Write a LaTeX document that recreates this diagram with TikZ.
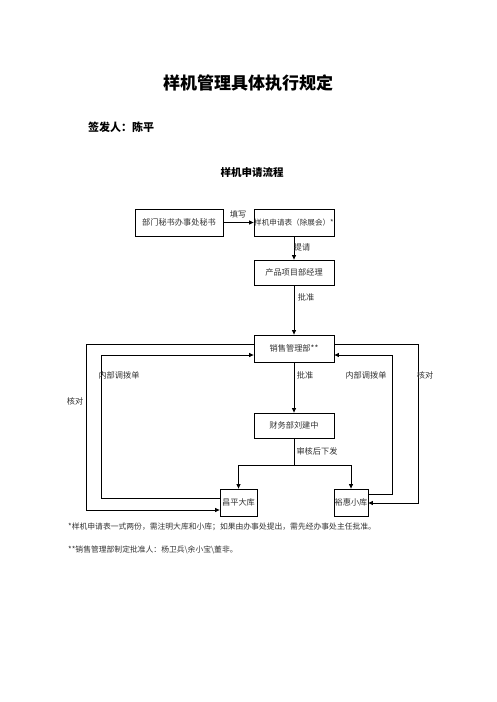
\documentclass[tikz,border=0pt]{standalone}
\usepackage{fontspec}
\setmainfont{Noto Sans CJK SC}
\usetikzlibrary{arrows.meta}
\tikzset{
  box/.style={draw, line width=0.8pt, inner sep=0pt, font=\fontsize{8.2}{9}\selectfont, text=black!80},
  lbl/.style={inner sep=0pt, font=\fontsize{8.2}{9}\selectfont, text=black!80},
  arr/.style={line width=0.8pt, -{Triangle[length=4.5pt,width=4pt]}},
  ln/.style={line width=0.8pt},
}
\begin{document}
\begin{tikzpicture}[x=1pt,y=-1pt]
\useasboundingbox[fill=white] (0,0) rectangle (496,702);
\node[font=\fontsize{17}{19}\selectfont\bfseries] (title) at (248,83) {样机管理具体执行规定};
\node[font=\fontsize{11}{13}\selectfont\bfseries, anchor=west, inner sep=0pt] (issuer) at (88,127) {签发人：陈平};
\node[font=\fontsize{10.5}{12}\selectfont\bfseries] (sub) at (252,172) {样机申请流程};

\node[box, minimum width=88pt, minimum height=27pt] (a) at (179,222.5) {部门秘书办事处秘书};
\node[box, minimum width=80pt, minimum height=27pt, font=\fontsize{7.6}{9}\selectfont] (b) at (294,222.5) {样机申请表（除展会）*};
\node[box, minimum width=80pt, minimum height=25pt] (c) at (294,272.5) {产品项目部经理};
\node[box, minimum width=80pt, minimum height=27pt] (d) at (294,348.5) {销售管理部**};
\node[box, minimum width=80pt, minimum height=25pt] (e) at (294,425.5) {财务部刘建中};
\node[box, minimum width=37pt, minimum height=27pt] (f) at (238.5,502.5) {昌平大库};
\node[box, minimum width=34pt, minimum height=27pt] (g) at (351,502.5) {裕惠小库};

\draw[arr] (a) -- (b);
\draw[arr] (b) -- (c);
\draw[arr] (c) -- (d);
\draw[arr] (d) -- (e);
\coordinate (sp) at (294,465);
\draw[ln] (e.south) -- (sp);
\draw[arr] (sp) -| (f.north);
\draw[arr] (sp) -| (g.north);

\draw[arr] ([yshift=4.5pt]d.west) -- (86,344) -- (86,510) -- ([yshift=-7.5pt]f.west);
\draw[arr] ([yshift=4.5pt]f.west) -- (101,498) -- (101,355) -- ([yshift=-6.5pt]d.west);
\draw[arr] ([yshift=4.5pt]d.east) -- (418,344) -- (418,503) -- ([yshift=-0.5pt]g.east);
\draw[arr] ([yshift=8.5pt]g.east) -- (392,494) -- (392,355) -- ([yshift=-6.5pt]d.east);

\node[lbl] (l1) at (238,214) {填写};
\node[lbl] (l2) at (302,247) {提请};
\node[lbl] (l3) at (306,297) {批准};
\node[lbl] (l4) at (305,375) {批准};
\node[lbl] (l5) at (317,451) {审核后下发};
\node[lbl] (l6) at (119,375) {内部调拨单};
\node[lbl] (l7) at (366,375) {内部调拨单};
\node[lbl] (l8) at (75,401) {核对};
\node[lbl] (l9) at (425,375) {核对};

\node[lbl, anchor=west, font=\fontsize{7.8}{9}\selectfont] (n1) at (68,527) {*样机申请表一式两份，需注明大库和小库；如果由办事处提出，需先经办事处主任批准。};
\node[lbl, anchor=west, font=\fontsize{7.8}{9}\selectfont] (n2) at (68,550) {**销售管理部制定批准人：杨卫兵\textbackslash 余小宝\textbackslash 董非。};
\end{tikzpicture}
\end{document}
